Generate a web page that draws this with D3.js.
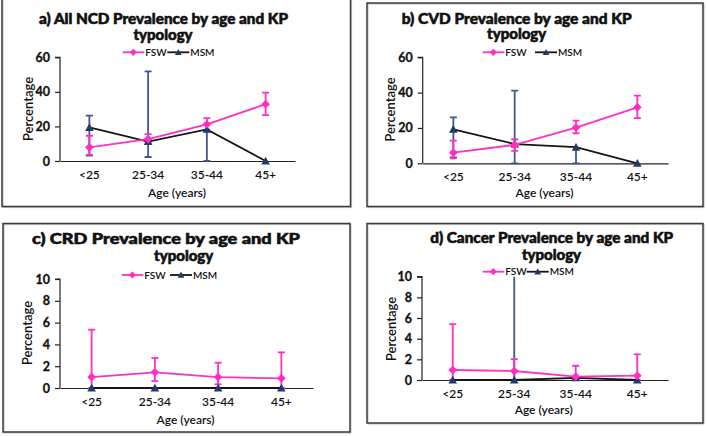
<!DOCTYPE html>
<html><head><meta charset="utf-8">
<script src="https://cdn.jsdelivr.net/npm/d3@7"></script>
<style>body{margin:0;background:#fff}svg{display:block}text{font-family:Lato,"DejaVu Sans",sans-serif}</style>
</head><body><svg id="c" width="707" height="436"></svg>
<script>
const categories = ["<25","25-34","35-44","45+"];
const seriesNames = ["FSW","MSM"];
const titles = [
  ["a) All NCD Prevalence by age and KP","typology"],
  ["b) CVD Prevalence by age and KP","typology"],
  ["c) CRD Prevalence by age and KP","typology"],
  ["d) Cancer Prevalence by age and KP","typology"]
];
const yTicksA = [0,20,40,60];
const yTicksB = [0,20,40,60];
const yTicksC = [0,2,4,6,8,10];
const yTicksD = [0,2,4,6,8,10];

// panel a
const aFSW = [7.9, 12.7, 21.2, 32.9], aFSWlo = [3.5, 10.5, 17.9, 26.5], aFSWhi = [14.6, 15.6, 24.8, 39.6];
const aMSM = [19.4, 11.2, 18.3, 0],  aMSMlo = [3.1, 2.3, 0, 0],     aMSMhi = [26.2, 51.9, 18.3, 0];
// panel b
const bFSW = [6.0, 10.4, 20.2, 31.7], bFSWlo = [2.8, 7.0, 17.0, 25.6], bFSWhi = [12.8, 13.6, 24.1, 38.3];
const bMSM = [19.2, 10.9, 9.1, 0],   bMSMlo = [3.4, 0, 0, 0],        bMSMhi = [26.0, 41.1, 9.1, 0];
// panel c
const cFSW = [1.0, 1.44, 1.0, 0.89], cFSWlo = [0, 0.64, 0.34, 0], cFSWhi = [5.35, 2.75, 2.32, 3.27];
const cMSM = [0, 0, 0, 0],           cMSMlo = [0, 0, 0, 0],       cMSMhi = [0, 0, 0, 0];
// panel d
const dFSW = [0.97, 0.87, 0.32, 0.42], dFSWlo = [0, 0, 0, 0], dFSWhi = [5.4, 2.03, 1.38, 2.49];
const dMSM = [0, 0, 0.2, 0],           dMSMlo = [0, 0, 0, 0], dMSMhi = [0, 12.0, 0.2, 0];

const PINK = "#ff2fc4", NAVY = "#1f3a6b", ERRNAVY = "#3d5a8a", LINEBLK = "#151515";

const panels = [
  {frame:[2,-2,350.5,206.5], x:[60,295], y:[161,57.3], max:60, ticks:yTicksA, title:titles[0], t1:[163.5,24,249], t2:[163,39.5],
   leg:[122.7,52.3], legB:167.3, ylab:[28.5,109], xlab:[177,196.5], data:[[aFSW,aFSWlo,aFSWhi],[aMSM,aMSMlo,aMSMhi]]},
  {frame:[367,3,703,206.5], x:[422.7,668], y:[163.3,57.3], max:60, ticks:yTicksB, title:titles[1], t1:[516.7,23.5,230], t2:[516.7,39.3],
   leg:[482.7,52.3], legB:535, ylab:[390,109.5], xlab:[544.5,196.5], data:[[bFSW,bFSWlo,bFSWhi],[bMSM,bMSMlo,bMSMhi]]},
  {frame:[3,223.5,350,432], x:[60,313], y:[388,279], max:10, ticks:yTicksC, title:titles[2], t1:[166,244,268], t2:[183.7,260.5],
   leg:[121.7,275], legB:170, ylab:[27.3,333], xlab:[185.5,424], data:[[cFSW,cFSWlo,cFSWhi],[cMSM,cMSMlo,cMSMhi]]},
  {frame:[367,223.5,703,423], x:[422,668], y:[380,276.7], max:10, ticks:yTicksD, title:titles[3], t1:[551.7,243.3,243], t2:[551.5,259.5],
   leg:[482.7,271.7], legB:526.7, ylab:[391,329], xlab:[543.7,414], data:[[dFSW,dFSWlo,dFSWhi],[dMSM,dMSMlo,dMSMhi]]}
];

const svg = d3.select("#c");
svg.append("rect").attr("width",707).attr("height",436).attr("fill","#fff");

function diamond(g, x, y, s, col){
  g.append("path").attr("d",`M${x},${y-s}L${x+s},${y}L${x},${y+s}L${x-s},${y}Z`).attr("fill",col);
}
function triangle(g, x, y, s, col){
  g.append("path").attr("d",`M${x},${y-s}L${x+s},${y+s*0.8}L${x-s},${y+s*0.8}Z`).attr("fill",col);
}

panels.forEach((p, pi) => {
  const g = svg.append("g");
  const [fx0,fy0,fx1,fy1] = p.frame;
  g.append("rect").attr("x",fx0+1).attr("y",fy0+1).attr("width",fx1-fx0).attr("height",fy1-fy0)
    .attr("fill","none").attr("stroke","#c8c8c8").attr("stroke-width",1.2);
  g.append("rect").attr("x",fx0).attr("y",fy0).attr("width",fx1-fx0).attr("height",fy1-fy0)
    .attr("fill","none").attr("stroke","#3a3a3a").attr("stroke-width",1.5);

  const x = d3.scaleBand().domain(categories).range(p.x);
  const cx = c => x(c) + x.bandwidth()/2;
  const y = d3.scaleLinear().domain([0,p.max]).range(p.y);

  // y axis
  const ya = d3.axisLeft(y).tickValues(p.ticks).tickSize(5).tickPadding(5);
  const yg = g.append("g").attr("transform",`translate(${p.x[0]},0)`).call(ya);
  yg.select(".domain").attr("stroke","#222").attr("stroke-width",1.2).attr("d",`M-5,${p.y[1]}H0V${p.y[0]}`);
  yg.selectAll(".tick line").attr("stroke","#222").attr("stroke-width",1.2);
  yg.selectAll(".tick text").attr("font-size",12.5).attr("font-weight",700).attr("fill","#111")
    .attr("stroke","#111").attr("stroke-width",0.3);

  // x axis
  const xa = d3.axisBottom(x).tickSize(0).tickPadding(9);
  const xg = g.append("g").attr("transform",`translate(0,${p.y[0]})`).call(xa);
  xg.select(".domain").attr("stroke","#222").attr("stroke-width",1.2);
  xg.selectAll(".tick text").attr("font-size",12).attr("font-weight",600).attr("fill","#111");

  // titles
  g.append("text").attr("x",p.t1[0]).attr("y",p.t1[1]).attr("text-anchor","middle")
    .attr("font-size",15).attr("font-weight",900).attr("fill","#111").attr("stroke","#111").attr("stroke-width",0.6)
    .attr("textLength",p.t1[2]).attr("lengthAdjust","spacingAndGlyphs").text(p.title[0]);
  g.append("text").attr("x",p.t2[0]).attr("y",p.t2[1]).attr("text-anchor","middle")
    .attr("font-size",15).attr("font-weight",900).attr("fill","#111").attr("stroke","#111").attr("stroke-width",0.6)
    .text(p.title[1]);

  // axis titles
  g.append("text").attr("transform",`translate(${p.ylab[0]},${p.ylab[1]}) rotate(-90)`).attr("text-anchor","middle")
    .attr("dy","0.35em").attr("font-size",13).attr("font-weight",600).attr("fill","#111").text("Percentage");
  g.append("text").attr("x",p.xlab[0]).attr("y",p.xlab[1]).attr("text-anchor","middle")
    .attr("font-size",12).attr("font-weight",600).attr("fill","#111").text("Age (years)");

  // clip
  const cid = "clip"+pi;
  svg.append("clipPath").attr("id",cid).append("rect").attr("x",p.x[0]-20).attr("y",p.y[1]).attr("width",p.x[1]-p.x[0]+40).attr("height",p.y[0]-p.y[1]+10);
  const pg = g.append("g").attr("clip-path",`url(#${cid})`);

  const cols = [PINK, LINEBLK], errCols = [PINK, ERRNAVY], markCols = [PINK, NAVY];
  [1,0].forEach(si => {
    const [v, lo, hi] = p.data[si];
    categories.forEach((c,i) => {
      if (lo[i] === hi[i]) return;
      const X = cx(c);
      pg.append("line").attr("x1",X).attr("x2",X).attr("y1",y(lo[i])).attr("y2",y(hi[i]))
        .attr("stroke",errCols[si]).attr("stroke-width",1.8);
      [lo[i],hi[i]].forEach(e => {
        if (e === v[i]) return;
        pg.append("line").attr("x1",X-3.5).attr("x2",X+3.5).attr("y1",y(e)).attr("y2",y(e))
          .attr("stroke",errCols[si]).attr("stroke-width",1.8);
      });
    });
  });
  [1,0].forEach(si => {
    const v = p.data[si][0];
    const line = d3.line().x((d,i)=>cx(categories[i])).y(d=>y(d));
    pg.append("path").attr("d",line(v)).attr("fill","none").attr("stroke",cols[si]).attr("stroke-width",1.8);
    v.forEach((d,i) => {
      if (si===0) diamond(pg, cx(categories[i]), y(d), 4.4, markCols[si]);
      else triangle(pg, cx(categories[i]), y(d), 4.3, markCols[si]);
    });
  });

  // legend
  const [lx, ly] = p.leg;
  g.append("line").attr("x1",lx).attr("x2",lx+21.6).attr("y1",ly).attr("y2",ly).attr("stroke",PINK).attr("stroke-width",1.8);
  diamond(g, lx+10.6, ly, 3.6, PINK);
  g.append("text").attr("x",lx+22.5).attr("y",ly).attr("dy","0.35em").attr("font-size",10).attr("font-weight",600).attr("fill","#111").text(seriesNames[0]);
  g.append("line").attr("x1",p.legB).attr("x2",p.legB+22).attr("y1",ly).attr("y2",ly).attr("stroke",LINEBLK).attr("stroke-width",1.8);
  triangle(g, p.legB+11, ly, 3.4, NAVY);
  g.append("text").attr("x",p.legB+23).attr("y",ly).attr("dy","0.35em").attr("font-size",10).attr("font-weight",600).attr("fill","#111").text(seriesNames[1]);
});
</script></body></html>
